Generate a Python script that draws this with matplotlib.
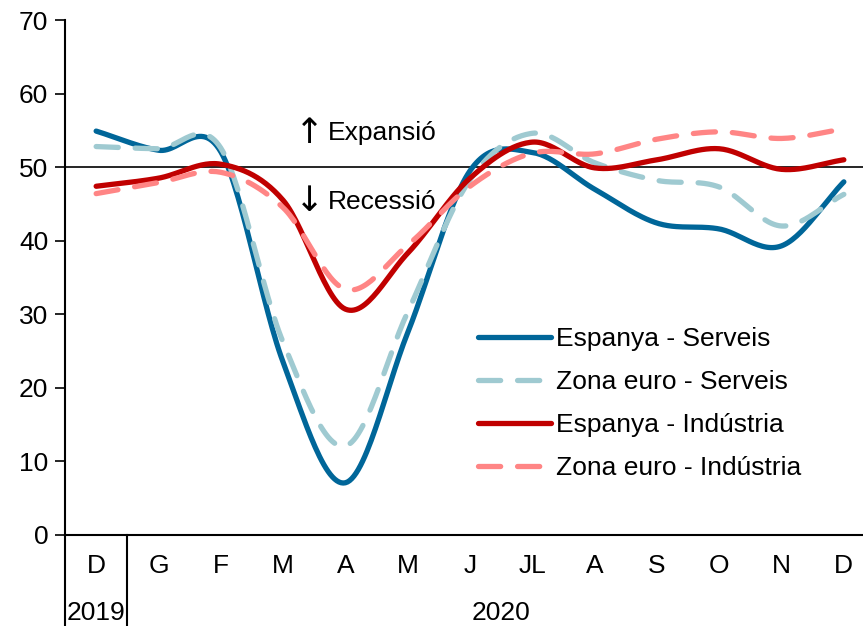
import numpy as np
import matplotlib
matplotlib.use("Agg")
import matplotlib.pyplot as plt
import matplotlib.transforms as mtransforms

plt.rcParams['font.family'] = ['Liberation Sans', 'DejaVu Sans']

months = ["D", "G", "F", "M", "A", "M", "J", "JL", "A", "S", "O", "N", "D"]
years = ["2019", "2020"]

espanya_serveis = [54.9, 52.3, 52.1, 23.5, 7.1, 27.5, 49.5, 52.0, 47.0, 42.4, 41.6, 39.3, 48.0]
zona_serveis = [52.8, 52.5, 52.6, 26.2, 12.1, 30.3, 48.3, 54.6, 50.6, 48.2, 47.3, 42.0, 46.3]
espanya_industria = [47.4, 48.5, 50.4, 45.5, 30.7, 38.3, 48.5, 53.4, 49.9, 51.0, 52.5, 49.7, 51.0]
zona_industria = [46.4, 47.9, 49.3, 44.5, 33.4, 39.4, 47.4, 51.9, 51.8, 53.8, 54.8, 53.9, 55.2]


def smooth(xs, ys, n=30):
    # catmull-rom style curve like Excel's "smoothed line"
    xs = np.asarray(xs, float)
    ys = np.asarray(ys, float)
    px = np.concatenate([[2 * xs[0] - xs[1]], xs, [2 * xs[-1] - xs[-2]]])
    py = np.concatenate([[2 * ys[0] - ys[1]], ys, [2 * ys[-1] - ys[-2]]])
    ox, oy = [], []
    t = np.linspace(0, 1, n)
    for i in range(1, len(px) - 2):
        p0, p1, p2, p3 = (np.array([px[j], py[j]]) for j in range(i - 1, i + 3))
        c1 = p1 + (p2 - p0) / 6
        c2 = p2 - (p3 - p1) / 6
        b = ((1 - t) ** 3)[:, None] * p1 + (3 * (1 - t) ** 2 * t)[:, None] * c1 \
            + (3 * (1 - t) * t ** 2)[:, None] * c2 + (t ** 3)[:, None] * p2
        ox.extend(b[:, 0])
        oy.extend(b[:, 1])
    return np.array(ox), np.array(oy)


fig = plt.figure(figsize=(8.63, 6.26), dpi=100)
W, H = 863, 626
ax = fig.add_axes([65 / W, 91 / H, 810 / W, 515 / H])
fs = 19

x = np.arange(len(months))
series = [
    (espanya_serveis, "#006699", "-", "Espanya - Serveis"),
    (zona_serveis, "#9fcad1", "--", "Zona euro - Serveis"),
    (espanya_industria, "#c00000", "-", "Espanya - Indústria"),
    (zona_industria, "#ff8585", "--", "Zona euro - Indústria"),
]
ax.axhline(50, color="black", lw=1.2, zorder=1)
for vals, col, ls, lab in series:
    sx, sy = smooth(x, vals)
    if ls == "--":
        ax.plot(sx, sy, color=col, lw=3.8, ls=(0, (4.2, 3.2)), label=lab,
                dash_capstyle="round", zorder=3)
    else:
        ax.plot(sx, sy, color=col, lw=3.8, label=lab, solid_capstyle="round", zorder=3)

ax.set_xlim(-0.5, 12.5)
ax.set_ylim(0, 70)
ax.set_yticks(range(0, 71, 10))
ax.set_xticks([])
ax.tick_params(axis="y", labelsize=fs, length=7, width=1.2, direction="out", pad=5)
for s in ["top", "right"]:
    ax.spines[s].set_visible(False)
ax.spines["left"].set_linewidth(1.5)
ax.spines["bottom"].set_linewidth(1.5)

trans = mtransforms.blended_transform_factory(ax.transData, ax.transAxes)
for i, m in enumerate(months):
    ax.text(i, -31 / 515, m, transform=trans, ha="center", va="center", fontsize=fs)
ax.text(0, -78 / 515, years[0], transform=trans, ha="center", va="center", fontsize=fs)
ax.text(6.5, -78 / 515, years[1], transform=trans, ha="center", va="center", fontsize=fs)
for xv in [-0.5, 0.5]:
    ax.plot([xv, xv], [0, -100 / 515], transform=trans, color="black",
            lw=1.5, clip_on=False)

ax.text(3.42, 54.7, "↑", ha="center", va="center", fontsize=25, family="DejaVu Sans")
ax.text(3.72, 54.6, "Expansió", ha="left", va="center", fontsize=fs)
ax.text(3.42, 45.4, "↓", ha="center", va="center", fontsize=25, family="DejaVu Sans")
ax.text(3.72, 45.3, "Recessió", ha="left", va="center", fontsize=fs)

ax.legend(loc="upper left", bbox_to_anchor=((478 - 65) / 810, (535 - 327) / 515),
          frameon=False, fontsize=fs, handlelength=2.75, handletextpad=0.2,
          labelspacing=0.72, borderpad=0, borderaxespad=0)

fig.savefig("out.png", dpi=100)
